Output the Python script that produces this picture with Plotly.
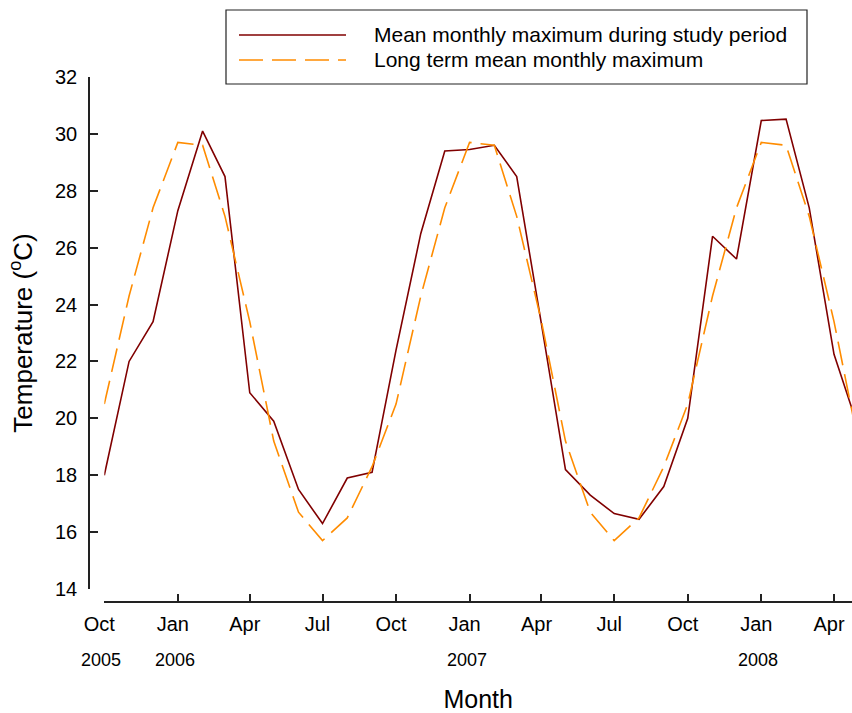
import plotly.graph_objects as go

# ---- data ----
months = ["2005-10-01", "2005-11-01", "2005-12-01", "2006-01-01", "2006-02-01", "2006-03-01",
          "2006-04-01", "2006-05-01", "2006-06-01", "2006-07-01", "2006-08-01", "2006-09-01",
          "2006-10-01", "2006-11-01", "2006-12-01", "2007-01-01", "2007-02-01", "2007-03-01",
          "2007-04-01", "2007-05-01", "2007-06-01", "2007-07-01", "2007-08-01", "2007-09-01",
          "2007-10-01", "2007-11-01", "2007-12-01", "2008-01-01", "2008-02-01", "2008-03-01",
          "2008-04-01", "2008-05-01"]
study_max = [18.0, 22.0, 23.4, 27.3, 30.1, 28.5,
             20.9, 19.9, 17.5, 16.3, 17.9, 18.1,
             22.4, 26.5, 29.4, 29.45, 29.6, 28.5,
             23.3, 18.2, 17.3, 16.65, 16.45, 17.6,
             20.0, 26.4, 25.6, 30.47, 30.52, 27.4,
             22.25, 19.7]
longterm_max = [20.5, 24.3, 27.4, 29.7, 29.6, 27.1,
                23.4, 19.2, 16.7, 15.7, 16.5, 18.3,
                20.5, 24.3, 27.4, 29.7, 29.6, 27.1,
                23.4, 19.2, 16.7, 15.7, 16.5, 18.3,
                20.5, 24.3, 27.4, 29.7, 29.6, 27.1,
                23.4, 19.2]
tick_vals = ["2005-10-01", "2006-01-01", "2006-04-01", "2006-07-01", "2006-10-01", "2007-01-01",
             "2007-04-01", "2007-07-01", "2007-10-01", "2008-01-01", "2008-04-01"]
tick_text = ["Oct", "Jan", "Apr", "Jul", "Oct", "Jan", "Apr", "Jul", "Oct", "Jan", "Apr"]
year_pos = ["2005-10-01", "2006-01-01", "2007-01-01", "2008-01-01"]
year_text = ["2005", "2006", "2007", "2008"]
series_names = ["Mean monthly maximum during study period", "Long term mean monthly maximum"]

# ---- layout geometry ----
W, H = 852, 713
ML, MR, MT, MB = 89, 0, 77, 111
PW, PH = W - ML - MR, H - MT - MB
FONT = "Liberation Sans, Arial, sans-serif"
RED = "#800000"
ORANGE = "#ff8c00"
DASH = "24px,9px"


def px(x):
    return (x - ML) / PW


def py(y):
    return (H - MB - y) / PH


fig = go.Figure()
fig.add_trace(go.Scatter(x=months, y=study_max, mode="lines", name=series_names[0],
                         line=dict(color=RED, width=1.6)))
fig.add_trace(go.Scatter(x=months, y=longterm_max, mode="lines", name=series_names[1],
                         line=dict(color=ORANGE, width=1.6, dash=DASH)))

fig.update_layout(
    width=W, height=H, margin=dict(l=ML, r=MR, t=MT, b=MB),
    paper_bgcolor="white", plot_bgcolor="white", showlegend=False,
    font=dict(family=FONT, color="black", size=20),
    xaxis=dict(type="date", range=["2005-10-01", "2008-04-23 12:00"],
               domain=[px(104.3), 1], anchor="free", position=0,
               tickmode="array", tickvals=tick_vals, ticktext=tick_text,
               ticks="inside", ticklen=7, tickwidth=1.5, tickcolor="#222",
               showline=True, linecolor="#222", linewidth=1.5,
               showgrid=False, zeroline=False, ticklabelshift=-5, ticklabelstandoff=4,
               tickfont=dict(size=20, family=FONT),
               title=dict(text="Month", font=dict(size=25, family=FONT), standoff=56)),
    yaxis=dict(range=[14, 32], domain=[py(589), 1], anchor="free", position=0,
               tickmode="array", tickvals=[14, 16, 18, 20, 22, 24, 26, 28, 30, 32],
               ticks="inside", ticklen=8, tickwidth=1.5, tickcolor="#222",
               showline=True, linecolor="#222", linewidth=1.5,
               showgrid=False, zeroline=False, ticklabelstandoff=7,
               tickfont=dict(size=20, family=FONT),
               title=dict(text="Temperature (<sup>o</sup>C)", font=dict(size=26, family=FONT),
                          standoff=14)),
)

# year labels under the month ticks
for xv, t in zip(year_pos, year_text):
    fig.add_annotation(x=xv, xref="x", y=py(660), yref="paper", text=t, showarrow=False,
                       xshift=-3, yanchor="middle", font=dict(size=18, family=FONT))

# legend box drawn in paper coordinates
fig.add_shape(type="rect", xref="paper", yref="paper", x0=px(226), x1=px(807), y0=py(84), y1=py(10),
              line=dict(color="#222", width=1.2), fillcolor="rgba(0,0,0,0)")
fig.add_shape(type="line", xref="paper", yref="paper", x0=px(239), x1=px(346), y0=py(35), y1=py(35),
              line=dict(color=RED, width=1.6))
fig.add_shape(type="line", xref="paper", yref="paper", x0=px(239), x1=px(346), y0=py(60), y1=py(60),
              line=dict(color=ORANGE, width=1.6, dash=DASH))
for yy, name in zip([35, 60], series_names):
    fig.add_annotation(x=px(372), xref="paper", y=py(yy), yref="paper", text=name, showarrow=False,
                       xanchor="left", yanchor="middle", font=dict(size=21, family=FONT))

fig.write_html("out.html")
